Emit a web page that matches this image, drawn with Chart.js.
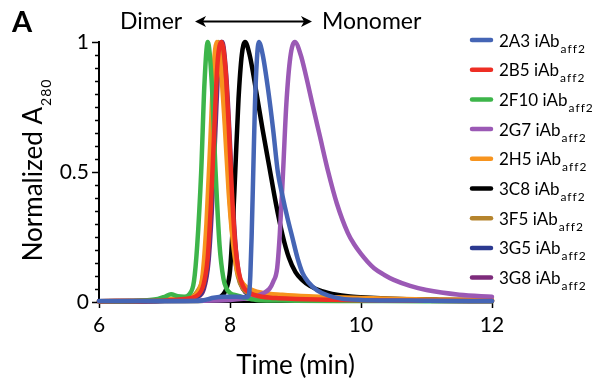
<!DOCTYPE html>
<html><head><meta charset="utf-8">
<script src="https://cdn.jsdelivr.net/npm/chart.js@4/dist/chart.umd.min.js"></script>
<style>html,body{margin:0;padding:0;background:#fff}#wrap{width:592px;height:383px;position:relative}</style>
</head><body><div id="wrap"><canvas id="c" width="592" height="383"></canvas></div>
<script>
// ---- data ----
const seriesNames = ['2A3', '2B5', '2F10', '2G7', '2H5', '3C8', '3F5', '3G5', '3G8'];
const seriesColors = ['#4565b5', '#ee2e24', '#3db54a', '#9b59b5', '#f7941e', '#000000', '#b5842d', '#2b3990', '#7d2b7b'];
const xTicks = [6, 8, 10, 12];
const yTickLabels = ['0', '0.5', '1'];

const t_2A3 = [6, 7.0, 7.55, 7.65, 7.75, 7.9, 8.1, 8.25, 8.29, 8.31, 8.33, 8.355, 8.38, 8.41, 8.44, 8.5, 8.58, 8.66, 8.73, 8.8, 8.88, 8.95, 9.03, 9.11, 9.2, 9.33, 9.5, 9.7, 10, 11, 12];
const y_2A3 = [0.004, 0.004, 0.005, 0.01, 0.016, 0.02, 0.02, 0.018, 0.03, 0.1, 0.25, 0.5, 0.75, 0.93, 1.0, 0.95, 0.82, 0.66, 0.5, 0.41, 0.32, 0.25, 0.17, 0.11, 0.075, 0.045, 0.025, 0.013, 0.008, 0.005, 0.004];

const t_2B5 = [6, 7.0, 7.3, 7.5, 7.6, 7.66, 7.71, 7.76, 7.81, 7.87, 7.93, 7.98, 8.03, 8.08, 8.13, 8.2, 8.3, 8.45, 8.7, 9.0, 9.5, 10, 11, 12];
const y_2B5 = [0.003, 0.006, 0.012, 0.025, 0.07, 0.17, 0.38, 0.66, 0.92, 1.0, 0.9, 0.68, 0.42, 0.22, 0.12, 0.06, 0.035, 0.022, 0.015, 0.012, 0.009, 0.007, 0.005, 0.004];

const t_2F10 = [6, 6.6, 6.9, 7.0, 7.1, 7.2, 7.3, 7.38, 7.45, 7.5, 7.56, 7.61, 7.66, 7.72, 7.78, 7.84, 7.9, 7.95, 8.0, 8.1, 8.2, 8.4, 8.7, 9, 10, 11, 12];
const y_2F10 = [0.003, 0.005, 0.012, 0.02, 0.03, 0.022, 0.02, 0.03, 0.08, 0.22, 0.5, 0.84, 1.0, 0.85, 0.5, 0.22, 0.09, 0.05, 0.035, 0.025, 0.018, 0.008, 0.006, 0.005, 0.004, 0.003, 0.003];

const t_2G7 = [6, 7.5, 8.0, 8.2, 8.35, 8.5, 8.6, 8.66, 8.72, 8.76, 8.81, 8.86, 8.92, 8.99, 9.08, 9.16, 9.25, 9.37, 9.5, 9.63, 9.8, 9.9, 10.0, 10.1, 10.2, 10.35, 10.5, 10.75, 11.0, 11.5, 12];
const y_2G7 = [0.003, 0.005, 0.008, 0.012, 0.018, 0.033, 0.05, 0.078, 0.13, 0.26, 0.5, 0.76, 0.94, 1.0, 0.95, 0.87, 0.77, 0.64, 0.5, 0.38, 0.265, 0.22, 0.185, 0.155, 0.13, 0.105, 0.085, 0.062, 0.046, 0.028, 0.02];

const t_2H5 = [6, 6.8, 7.0, 7.2, 7.4, 7.5, 7.58, 7.64, 7.7, 7.75, 7.8, 7.86, 7.92, 7.98, 8.04, 8.1, 8.2, 8.35, 8.5, 8.8, 9.2, 9.6, 10, 11, 12];
const y_2H5 = [0.003, 0.006, 0.01, 0.012, 0.018, 0.035, 0.1, 0.3, 0.62, 0.9, 1.0, 0.9, 0.68, 0.42, 0.24, 0.13, 0.07, 0.045, 0.035, 0.028, 0.022, 0.018, 0.015, 0.01, 0.008];

const t_3C8 = [6, 7.5, 7.8, 7.9, 7.95, 8.0, 8.04, 8.08, 8.13, 8.18, 8.23, 8.3, 8.4, 8.5, 8.6, 8.7, 8.8, 8.9, 9.0, 9.1, 9.22, 9.4, 9.63, 9.8, 10.0, 10.3, 10.7, 11.2, 12];
const y_3C8 = [0.003, 0.004, 0.012, 0.03, 0.055, 0.12, 0.28, 0.5, 0.78, 0.95, 1.0, 0.95, 0.81, 0.66, 0.52, 0.38, 0.26, 0.17, 0.115, 0.085, 0.062, 0.042, 0.028, 0.022, 0.018, 0.014, 0.011, 0.009, 0.007];

const t_3F5 = [6, 6.8, 7.0, 7.2, 7.4, 7.5, 7.6, 7.66, 7.72, 7.77, 7.82, 7.88, 7.94, 8.0, 8.06, 8.12, 8.2, 8.35, 8.6, 9.0, 9.5, 10, 11, 12];
const y_3F5 = [0.003, 0.006, 0.01, 0.013, 0.02, 0.04, 0.12, 0.33, 0.64, 0.9, 1.0, 0.9, 0.66, 0.38, 0.2, 0.1, 0.05, 0.03, 0.02, 0.015, 0.012, 0.01, 0.007, 0.005];

const t_3G5 = [6, 7.0, 7.3, 7.5, 7.6, 7.66, 7.71, 7.76, 7.81, 7.87, 7.93, 7.98, 8.03, 8.08, 8.13, 8.2, 8.3, 8.6, 9.0, 10, 11, 12];
const y_3G5 = [0.003, 0.005, 0.01, 0.02, 0.06, 0.15, 0.35, 0.63, 0.9, 1.0, 0.88, 0.65, 0.4, 0.2, 0.1, 0.05, 0.028, 0.014, 0.01, 0.007, 0.005, 0.004];

const t_3G8 = [6, 7.0, 7.3, 7.5, 7.6, 7.67, 7.72, 7.77, 7.82, 7.88, 7.94, 7.99, 8.04, 8.09, 8.14, 8.2, 8.3, 8.6, 9.0, 10, 11, 12];
const y_3G8 = [0.003, 0.005, 0.01, 0.02, 0.05, 0.15, 0.34, 0.62, 0.89, 1.0, 0.88, 0.66, 0.4, 0.2, 0.1, 0.05, 0.028, 0.014, 0.01, 0.007, 0.005, 0.004];

const seriesTimes = [t_2A3, t_2B5, t_2F10, t_2G7, t_2H5, t_3C8, t_3F5, t_3G5, t_3G8];
const seriesValues = [y_2A3, y_2B5, y_2F10, y_2G7, y_2H5, y_3C8, y_3F5, y_3G5, y_3G8];

// ---- chart ----
const FONT = 'Lato';
const datasets = seriesNames.map((name, i) => ({
  label: name + ' iAb aff2',
  data: seriesTimes[i].map((t, k) => ({ x: t, y: seriesValues[i][k] })),
  borderColor: seriesColors[i],
  backgroundColor: seriesColors[i],
  borderWidth: 4.5,
  borderCapStyle: 'round',
  borderJoinStyle: 'round',
  pointRadius: 0,
  cubicInterpolationMode: 'monotone',
  fill: false,
  clip: false
}));

function near(a, b) { return Math.abs(a - b) < 1e-6; }
function yLabel(v) {
  for (const s of yTickLabels) { if (near(v, parseFloat(s))) return s; }
  return '';
}

const decor = {
  id: 'decor',
  afterDraw(chart) {
    const ctx = chart.ctx;
    const ys = chart.scales.y;
    ctx.save();
    // minor y ticks
    ctx.strokeStyle = '#000';
    ctx.lineWidth = 1.5;
    const left = chart.chartArea.left;
    ys.ticks.forEach(tk => {
      if (yLabel(tk.value) !== '') return;
      const py = Math.round(ys.getPixelForValue(tk.value)) + 0.5;
      ctx.beginPath(); ctx.moveTo(left - 4, py); ctx.lineTo(left, py); ctx.stroke();
    });
    // panel letter
    ctx.fillStyle = '#000';
    ctx.font = 'bold 29px ' + FONT;
    ctx.textBaseline = 'alphabetic';
    ctx.textAlign = 'left';
    ctx.fillText('A', 12, 32);
    // Dimer <-> Monomer
    ctx.font = '23px ' + FONT;
    ctx.fillText('Dimer', 120, 29);
    ctx.fillText('Monomer', 322, 29);
    const ay = 21.5, ax0 = 195, ax1 = 312;
    ctx.lineWidth = 2;
    ctx.beginPath(); ctx.moveTo(ax0 + 6, ay); ctx.lineTo(ax1 - 6, ay); ctx.stroke();
    ctx.beginPath(); ctx.moveTo(ax0, ay); ctx.lineTo(ax0 + 11, ay - 5.5); ctx.lineTo(ax0 + 8, ay); ctx.lineTo(ax0 + 11, ay + 5.5); ctx.closePath(); ctx.fill();
    ctx.beginPath(); ctx.moveTo(ax1, ay); ctx.lineTo(ax1 - 11, ay - 5.5); ctx.lineTo(ax1 - 8, ay); ctx.lineTo(ax1 - 11, ay + 5.5); ctx.closePath(); ctx.fill();
    // y axis title
    const mainTxt = 'Normalized A', subTxt = '280';
    ctx.font = '26px ' + FONT;
    const wMain = ctx.measureText(mainTxt).width;
    ctx.font = '14px ' + FONT;
    ctx.letterSpacing = '1px';
    const wSub = ctx.measureText(subTxt).width;
    const total = wMain + 1 + wSub;
    const cy = (chart.chartArea.top + chart.chartArea.bottom) / 2 - 2;
    ctx.save();
    ctx.translate(42, cy + total / 2);
    ctx.rotate(-Math.PI / 2);
    ctx.letterSpacing = '0px';
    ctx.font = '26px ' + FONT;
    ctx.fillText(mainTxt, 0, 0);
    ctx.font = '14px ' + FONT;
    ctx.letterSpacing = '1px';
    ctx.fillText(subTxt, wMain + 1, 9);
    ctx.restore();
    ctx.letterSpacing = '0px';
    // legend
    const lx0 = 472, lx1 = 491, tx = 499, row0 = 40, step = 29.7;
    seriesNames.forEach((name, i) => {
      const y = row0 + i * step;
      ctx.strokeStyle = seriesColors[i];
      ctx.lineWidth = 4.5;
      ctx.lineCap = 'round';
      ctx.beginPath(); ctx.moveTo(lx0, y); ctx.lineTo(lx1, y); ctx.stroke();
      ctx.fillStyle = '#000';
      ctx.font = '17px ' + FONT;
      ctx.letterSpacing = '0px';
      const main = name + ' iAb';
      ctx.fillText(main, tx, y + 6.5);
      const w = ctx.measureText(main).width;
      ctx.font = '12px ' + FONT;
      ctx.letterSpacing = '1px';
      ctx.fillText('aff2', tx + w + 1, y + 12.5);
      ctx.letterSpacing = '0px';
    });
    ctx.restore();
  }
};

new Chart(document.getElementById('c'), {
  type: 'line',
  data: { datasets },
  options: {
    responsive: false,
    animation: false,
    devicePixelRatio: 1,
    layout: { padding: { left: 0, right: 100, top: 42, bottom: 0 } },
    plugins: { legend: { display: false }, tooltip: { enabled: false } },
    scales: {
      x: {
        type: 'linear', min: xTicks[0], max: xTicks[xTicks.length - 1],
        afterBuildTicks: s => { s.ticks = xTicks.map(v => ({ value: v })); },
        ticks: { color: '#000', font: { family: FONT, size: 21 }, padding: 5, maxRotation: 0 },
        grid: { display: true, drawOnChartArea: false, tickLength: 6, tickColor: '#000', tickWidth: 1.5 },
        border: { display: true, color: '#000', width: 2 },
        title: { display: true, text: 'Time (min)', color: '#000', font: { family: FONT, size: 26 }, padding: { top: 0, bottom: 2 } },
        afterFit: s => { s.height = 81; }
      },
      y: {
        type: 'linear', min: 0, max: 1,
        ticks: { stepSize: 0.05, autoSkip: false, color: '#000', font: { family: FONT, size: 21 }, padding: 3, callback: v => yLabel(v) },
        grid: { display: true, drawOnChartArea: false, tickLength: 7, tickWidth: 1.5,
                tickColor: c => (c.tick && yLabel(c.tick.value) !== '') ? '#000' : 'rgba(0,0,0,0)' },
        border: { display: true, color: '#000', width: 2 },
        afterFit: s => { s.width = 99; }
      }
    }
  },
  plugins: [decor]
});
</script>
</body></html>
